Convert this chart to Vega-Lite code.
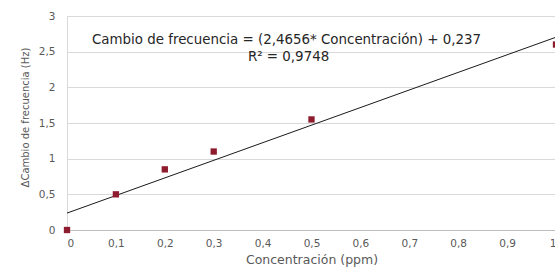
{
  "$schema": "https://vega.github.io/schema/vega-lite/v6.json",
  "width": 489,
  "height": 214,
  "autosize": "none",
  "padding": {"left": 67, "top": 16, "right": 0, "bottom": 43},
  "background": "white",
  "config": {
    "view": {"stroke": null},
    "font": "DejaVu Sans",
    "axis": {
      "labelColor": "#595959",
      "titleColor": "#595959",
      "labelFontSize": 10.5,
      "titleFontWeight": "normal",
      "ticks": false,
      "labelOverlap": false
    }
  },
  "data": {
    "values": [
      {"conc": 0, "cambio": 0},
      {"conc": 0.1, "cambio": 0.5},
      {"conc": 0.2, "cambio": 0.85},
      {"conc": 0.3, "cambio": 1.1},
      {"conc": 0.5, "cambio": 1.55},
      {"conc": 1, "cambio": 2.6}
    ]
  },
  "encoding": {
    "x": {
      "field": "conc", "type": "quantitative",
      "scale": {"domain": [0, 1], "nice": false},
      "axis": {
        "title": "Concentración (ppm)",
        "titleFontSize": 12.5,
        "values": [0, 0.1, 0.2, 0.3, 0.4, 0.5, 0.6, 0.7, 0.8, 0.9, 1],
        "labelExpr": "replace('' + datum.value, '.', ',')",
        "grid": false,
        "domainColor": "#bfbfbf",
        "labelPadding": 8,
        "titlePadding": 5
      }
    },
    "y": {
      "field": "cambio", "type": "quantitative",
      "scale": {"domain": [0, 3], "nice": false},
      "axis": {
        "title": "ΔCambio de frecuencia (Hz)",
        "titleFontSize": 10,
        "titleY": 101,
        "values": [0, 0.5, 1, 1.5, 2, 2.5, 3],
        "labelExpr": "replace('' + datum.value, '.', ',')",
        "grid": true,
        "gridColor": "#d9d9d9",
        "domainColor": "#d9d9d9",
        "labelPadding": 12,
        "titlePadding": 8
      }
    }
  },
  "layer": [
    {
      "transform": [{"regression": "cambio", "on": "conc"}],
      "mark": {"type": "line", "color": "#1a1a1a", "strokeWidth": 1}
    },
    {
      "mark": {"type": "square", "color": "#8e1b2e", "opacity": 1, "size": 40}
    },
    {
      "data": {
        "values": [
          {"conc": 0.051, "cambio": 2.66, "label": "Cambio de frecuencia  = (2,4656* Concentración) + 0,237"},
          {"conc": 0.37, "cambio": 2.43, "label": "R² = 0,9748"}
        ]
      },
      "mark": {"type": "text", "align": "left", "baseline": "middle", "fontSize": 13.4, "color": "#262626"},
      "encoding": {
        "text": {"field": "label"}
      }
    }
  ]
}
